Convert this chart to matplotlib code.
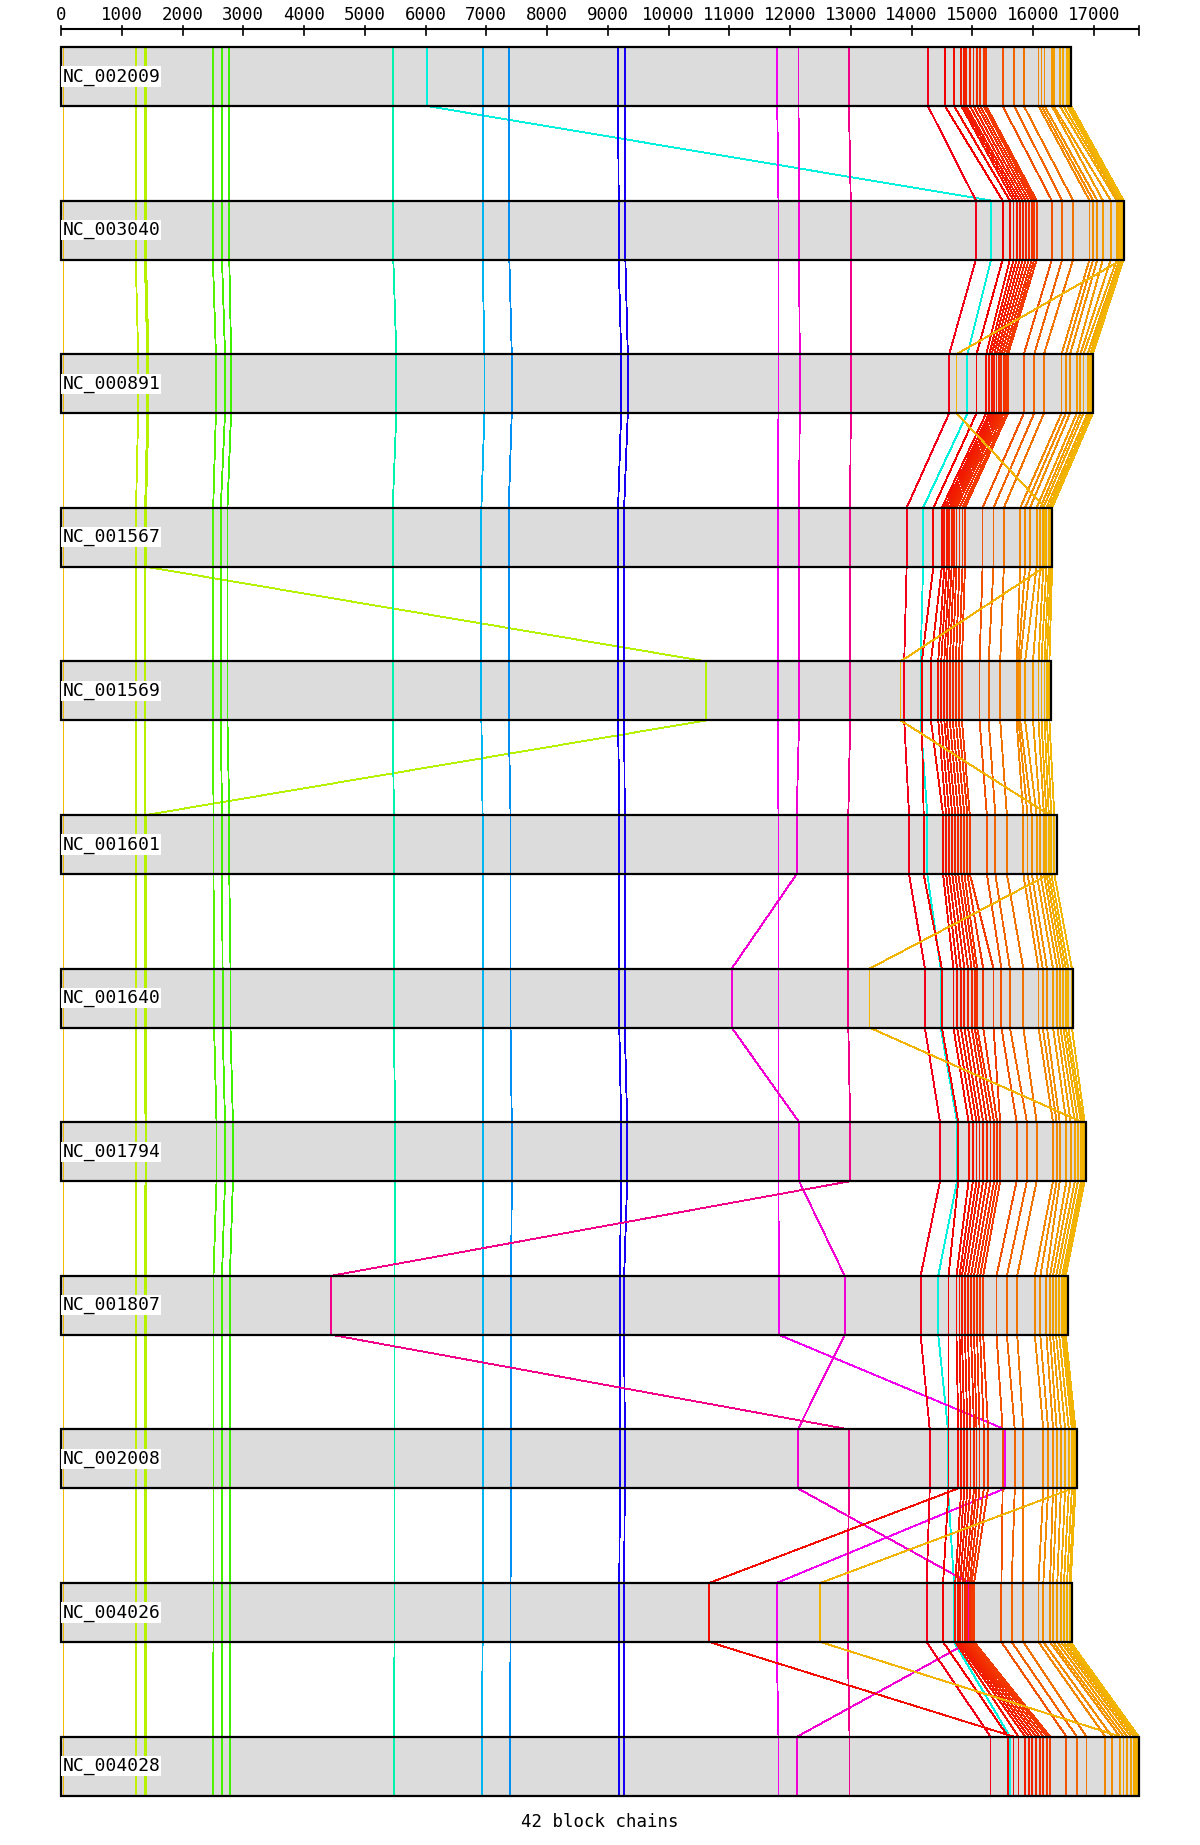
import colorsys

import numpy as np
import matplotlib
matplotlib.use('Agg')
import matplotlib.pyplot as plt
from matplotlib.patches import Rectangle

# genomes, top to bottom, with their lengths (bp)
genomes = ['NC_002009', 'NC_003040', 'NC_000891', 'NC_001567', 'NC_001569', 'NC_001601',
           'NC_001640', 'NC_001794', 'NC_001807', 'NC_002008', 'NC_004026', 'NC_004028']
lengths = [16630, 17500, 16990, 16320, 16290, 16390, 16660, 16880, 16570, 16720, 16640, 17750]

# position (bp) of each of the 42 block chains in every genome
pos_NC_002009 = [40, 1230, 1380, 1400, 2500, 2650, 2770, 5460, 6020, 6940, 7370, 9170, 9280, 11790, 12140, 12970,
                 14270, 14550, 14700, 14820, 14860, 14900, 14960, 15020, 15080, 15130, 15190, 15230,
                 15500, 15690, 15850, 16090, 16140, 16190, 16310, 16340, 16440, 16500, 16560, 16590, 16610, 16630]
pos_NC_003040 = [40, 1230, 1380, 1400, 2500, 2650, 2770, 5470, 15310, 6940, 7380, 9180, 9290, 11810, 12150, 13000,
                 15060, 15500, 15620, 15680, 15730, 15780, 15830, 15880, 15930, 15980, 16020, 16060,
                 16310, 16480, 16660, 16930, 16990, 17060, 17150, 17280, 17380, 17420, 17445, 17460, 17470, 17490]
pos_NC_000891 = [40, 1270, 1420, 1440, 2550, 2700, 2800, 5520, 14920, 6970, 7420, 9220, 9330, 11810, 12160, 13000,
                 14620, 15070, 15230, 15280, 15320, 15360, 15400, 15440, 15480, 15520, 15560, 15590,
                 15850, 16020, 16180, 16470, 16540, 16610, 16720, 16780, 16830, 16900, 16940, 16965, 14740, 16985]
pos_NC_001567 = [40, 1235, 1385, 1400, 2505, 2630, 2740, 5460, 14190, 6920, 7370, 9170, 9270, 11800, 12150, 12990,
                 13920, 14360, 14500, 14540, 14580, 14620, 14660, 14700, 14740, 14790, 14840, 14880,
                 15170, 15350, 15520, 15790, 15870, 15950, 16060, 16120, 16170, 16220, 16260, 16290, 16200, 16315]
pos_NC_001569 = [40, 1235, 1385, 10620, 2505, 2630, 2740, 5460, 14150, 6920, 7370, 9170, 9270, 11800, 12150, 12990,
                 13880, 14170, 14320, 14440, 14490, 14540, 14580, 14630, 14680, 14730, 14780, 14830,
                 15120, 15270, 15460, 15730, 15760, 15790, 15870, 16000, 16090, 16140, 16190, 16230, 13820, 16270]
pos_NC_001601 = [40, 1235, 1385, 1400, 2510, 2650, 2770, 5480, 14260, 6940, 7400, 9190, 9280, 11810, 12110, 12960,
                 13960, 14200, 14520, 14570, 14620, 14670, 14720, 14770, 14820, 14870, 14920, 14960,
                 15240, 15380, 15570, 15840, 15910, 15980, 16060, 16120, 16180, 16220, 16260, 16300, 16270, 16350]
pos_NC_001640 = [40, 1235, 1385, 1400, 2520, 2660, 2790, 5480, 14480, 6940, 7400, 9190, 9280, 11810, 11040, 12960,
                 14220, 14500, 14690, 14750, 14810, 14870, 14930, 14990, 15040, 15080, 15180, 15350,
                 15480, 15620, 15840, 16090, 16160, 16230, 16330, 16400, 16450, 16500, 16540, 16580, 13310, 16640]
pos_NC_001794 = [40, 1240, 1390, 1405, 2560, 2700, 2830, 5500, 14750, 6950, 7420, 9220, 9320, 11810, 12150, 12990,
                 14470, 14770, 14940, 15010, 15070, 15120, 15180, 15240, 15300, 15360, 15410, 15460,
                 15730, 15900, 16060, 16330, 16390, 16440, 16550, 16620, 16690, 16740, 16790, 16820, 16810, 16850]
pos_NC_001807 = [40, 1230, 1380, 1400, 2510, 2650, 2780, 5490, 14440, 6940, 7410, 9200, 9270, 11815, 12900, 4450,
                 14150, 14610, 14740, 14790, 14830, 14880, 14930, 14980, 15030, 15080, 15130, 15180,
                 15400, 15570, 15740, 16030, 16120, 16220, 16280, 16330, 16380, 16430, 16480, 16510, 16500, 16540]
pos_NC_002008 = [40, 1230, 1380, 1400, 2510, 2650, 2780, 5490, 14600, 6940, 7410, 9200, 9280, 15540, 12130, 12970,
                 14300, 14610, 14770, 14820, 14870, 14920, 14970, 15030, 15070, 15120, 15190, 15260,
                 15500, 15700, 15840, 16170, 16250, 16330, 16390, 16460, 16530, 16590, 16640, 16680, 16650, 16700]
pos_NC_004026 = [40, 1230, 1380, 1400, 2510, 2650, 2780, 5490, 14700, 6940, 7400, 9190, 9270, 11780, 14950, 12950,
                 14250, 14520, 10670, 14720, 14760, 14800, 14840, 14880, 14920, 14960, 14990, 15030,
                 15480, 15650, 15840, 16090, 16170, 16280, 16330, 16400, 16460, 16510, 16560, 16600, 12500, 16620]
pos_NC_004028 = [40, 1230, 1380, 1400, 2500, 2650, 2780, 5480, 15620, 6930, 7390, 9180, 9270, 11810, 12120, 12980,
                 15300, 15590, 15680, 15760, 15870, 15930, 15990, 16050, 16110, 16170, 16230, 16280,
                 16550, 16720, 16880, 17190, 17300, 17430, 17490, 17550, 17610, 17660, 17690, 17720, 17440, 17740]

ticks = list(range(0, 18000, 1000))
footer = '42 block chains'

positions = np.array([pos_NC_002009, pos_NC_003040, pos_NC_000891, pos_NC_001567, pos_NC_001569, pos_NC_001601,
                      pos_NC_001640, pos_NC_001794, pos_NC_001807, pos_NC_002008, pos_NC_004026, pos_NC_004028])

# layout in pixels
W, H = 1200, 1845
x0_px = 61
px_per_kb = 60.75
row_top0, row_step, row_h = 47, 153.6, 59
axis_y = 29

fig = plt.figure(figsize=(W / 100, H / 100), dpi=100)
ax = fig.add_axes([0, 0, 1, 1])
ax.set_xlim(-x0_px / px_per_kb * 1000, (W - x0_px) / px_per_kb * 1000)
ax.set_ylim(H, 0)
ax.axis('off')

mono = 'DejaVu Sans Mono'

# scale bar on top
max_len = max(lengths)
ax.plot([0, max_len], [axis_y, axis_y], color='black', lw=1.5, solid_capstyle='butt')
for t in ticks + [max_len]:
    ax.plot([t, t], [axis_y - 3, axis_y + 6], color='black', lw=1.2)
for t in ticks:
    ax.text(t, 15, str(t), ha='center', va='center', fontsize=12.5, family=mono)

tops = [row_top0 + i * row_step for i in range(len(genomes))]

# genome boxes
for top, L in zip(tops, lengths):
    ax.add_patch(Rectangle((0, top), L, row_h, facecolor='#dcdcdc', edgecolor='none', zorder=1))

# block chains, coloured by position in the first genome
ref_len = lengths[0]
for c in range(positions.shape[1]):
    hue = ((45 + 360 * positions[0, c] / ref_len) % 360) / 360
    col = colorsys.hsv_to_rgb(hue, 1.0, 0.95)
    xs, ys = [], []
    for g, top in enumerate(tops):
        xs += [positions[g, c], positions[g, c]]
        ys += [top, top + row_h]
    ax.plot(xs, ys, color=col, lw=0.6, zorder=2, antialiased=False)

for top, L, name in zip(tops, lengths, genomes):
    ax.add_patch(Rectangle((0, top), L, row_h, fill=False, edgecolor='black', lw=1.6, zorder=3))
    ax.text(25, top + row_h / 2, name, ha='left', va='center', fontsize=13, family=mono, zorder=5,
            bbox=dict(facecolor='white', edgecolor='none', pad=0.8))

fig.text(0.5, 1 - 1822 / H, footer, ha='center', va='center', fontsize=12.5, family=mono)

fig.savefig('out.png', dpi=100)
